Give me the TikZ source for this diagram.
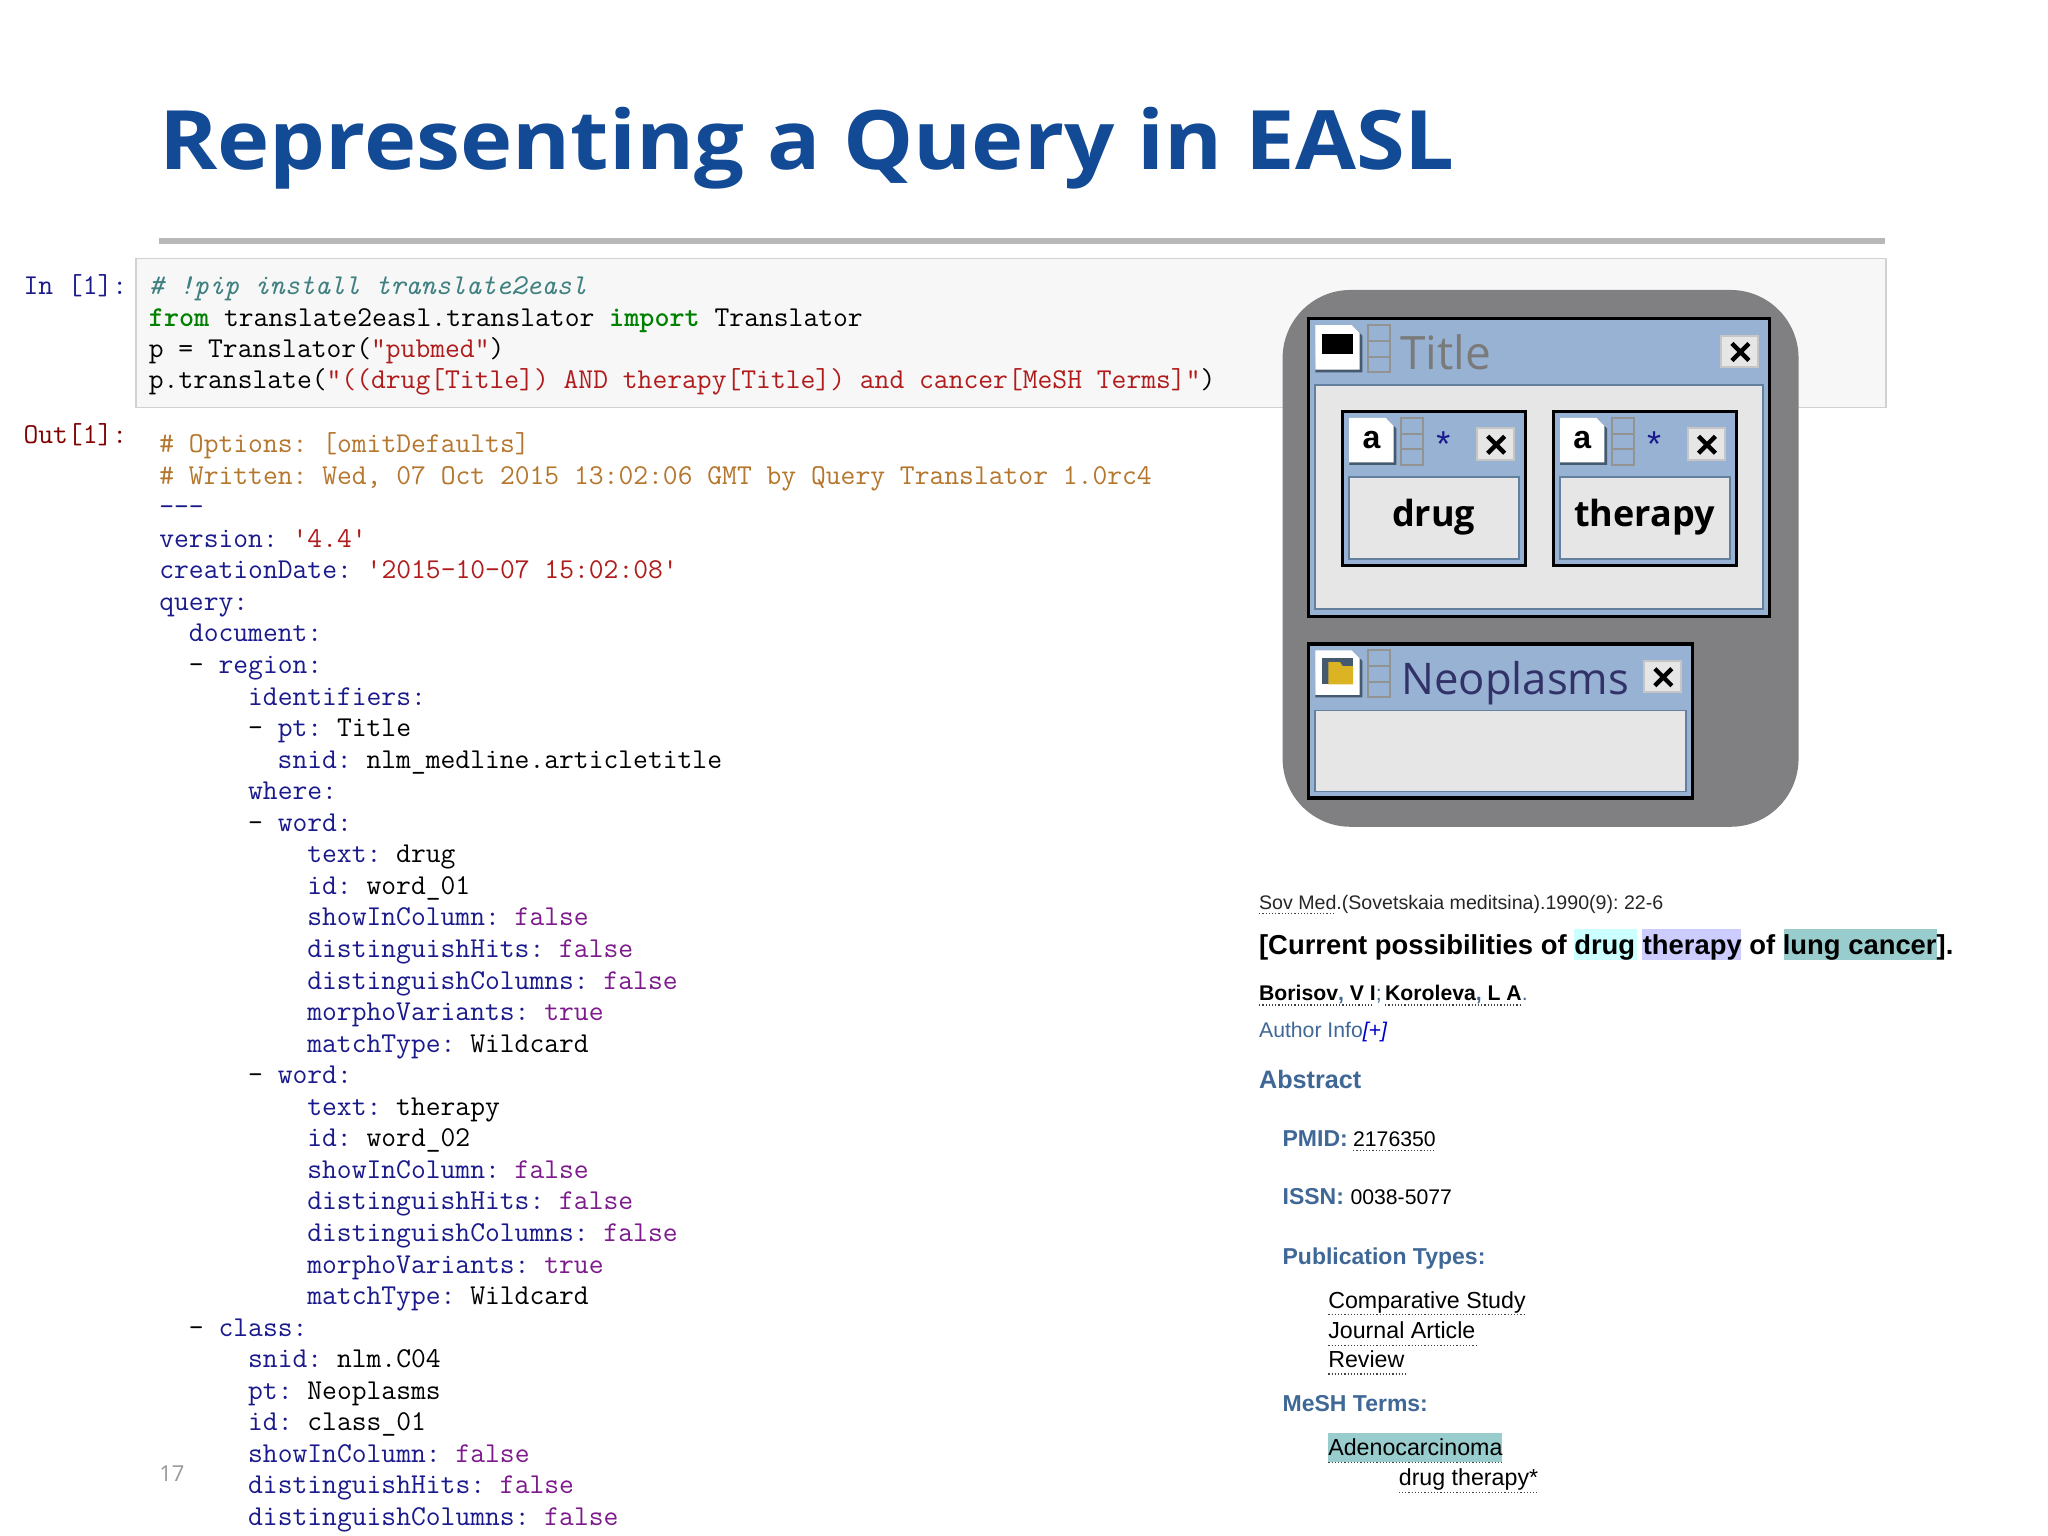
\documentclass[tikz,border=0pt]{standalone}
\usepackage{fontspec}
\setmainfont{Liberation Sans}
\newfontfamily\headfont{Open Sans}
\usetikzlibrary{positioning}
\AtBeginDocument{\frenchspacing}

\definecolor{titleblue}{HTML}{134A95}
\definecolor{keynavy}{HTML}{1A1A8C}
\definecolor{strred}{HTML}{B01C1C}
\definecolor{boolpurple}{HTML}{7D1A8C}
\definecolor{cmorange}{HTML}{B5762E}
\definecolor{cmteal}{HTML}{408080}
\definecolor{kwgreen}{HTML}{008000}
\definecolor{labelred}{HTML}{800000}
\definecolor{winblue}{HTML}{98B2D3}
\definecolor{winedge}{HTML}{64809F}
\definecolor{winbody}{HTML}{E6E6E6}
\definecolor{panelgrey}{HTML}{808082}
\definecolor{headblue}{HTML}{3F6897}
\definecolor{hlcyan}{HTML}{CCFFFF}
\definecolor{hlviolet}{HTML}{CCCCFF}
\definecolor{hlteal}{HTML}{99CCCC}

\newcommand{\ky}[1]{\textcolor{keynavy}{#1}}
\newcommand{\st}[1]{\textcolor{strred}{#1}}
\newcommand{\bl}[1]{\textcolor{boolpurple}{#1}}
\newcommand{\cm}[1]{\textcolor{cmorange}{#1}}
\newcommand{\kw}[1]{\textcolor{kwgreen}{\bfseries #1}}
\newcommand{\codesize}{\fontsize{14.38}{16}\selectfont\ttfamily}

% grey three part grip, white page and close button of a query window
\newcommand{\wingrip}[2]{
    \draw[draw=gray!85,line width=1pt,fill=winblue](#1,#2)rectangle++(17,36);
    \draw[draw=gray!85,line width=1pt](#1,#2+12)--++(17,0) (#1,#2+24)--++(17,0);
}
\newcommand{\winpage}[2]{
    \fill[winedge!70!black](#1+1,#2+1)--++(28,0)--++(7,7)--++(0,28)--++(-36,0)--cycle;
    \fill[white](#1,#2)--++(28,0)--++(6,6)--++(0,28)--++(-34,0)--cycle;
}
\newcommand{\winclose}[2]{
    \draw[draw=gray!45,line width=1pt,fill=winbody](#1,#2)rectangle++(28,24);
    \draw[line width=2.2pt](#1+8,#2+6)--++(13,13) (#1+21,#2+6)--++(-13,13);
}

\tikzset{
    txt/.style={anchor=base west,inner sep=0pt,outer sep=0pt},
    code/.style={txt,font=\codesize},
    plain/.style={txt,font=\fontsize{10.6}{12}\selectfont},
    term/.style={txt,font=\fontsize{11.6}{13}\selectfont},
    strong/.style={txt,font=\fontsize{11.5}{13}\selectfont\bfseries,text=headblue},
    under/.style={black!75,line width=0.6pt,densely dotted},
    winframe/.style={draw=black,line width=1.6pt,fill=winblue},
    winpane/.style={draw=winedge,line width=0.9pt,fill=winbody}
}

\begin{document}
\begin{tikzpicture}[x=0.653pt,y=-0.653pt]
    \useasboundingbox(0,0)rectangle(1568,1176);
    \fill[white](0,0)rectangle(1568,1176);

    \node[txt,font=\headfont\fontsize{41}{46}\selectfont\bfseries,text=titleblue](heading)at(122,130){\scalebox{1.078}[1]{Representing a Query in EASL}};
    \fill[black!28](122,182)rectangle(1443,187);
    \node[txt,font=\headfont\fontsize{11}{13}\selectfont,text=black!40](pageno)at(122,1134){17};

    % input cell
    \draw[draw=black!18,line width=0.7pt,fill=black!3](104,198)rectangle(1444,312);
    \node[code,text=keynavy](inlabel)at(18,225.7){In [1]:};
    \node[code,text=labelred](outlabel)at(18,339.5){Out[1]:};
    \node[code,text=cmteal,font=\codesize\itshape](inone)at(114,225.7){\# !pip install translate2easl};
    \node[code](intwo)at(114,249.7){\kw{from} translate2easl.translator \kw{import} Translator};
    \node[code](inthree)at(114,273.7){p = Translator(\st{"pubmed"})};
    \node[code](infour)at(114,297.7){p.translate(\st{"((drug[Title]) AND therapy[Title]) and cancer[MeSH Terms]"})};

    % output cell
    \foreach \row/\ind/\txt in {
        0/0/{\cm{\# Options: [omitDefaults]}},
        1/0/{\cm{\# Written: Wed, 07 Oct 2015 13:02:06 GMT by Query Translator 1.0rc4}},
        2/0/{\ky{---}},
        3/0/{\ky{version:} \st{'4.4'}},
        4/0/{\ky{creationDate:} \st{'2015-10-07 15:02:08'}},
        5/0/{\ky{query:}},
        6/2/{\ky{document:}},
        7/2/{- \ky{region:}},
        8/6/{\ky{identifiers:}},
        9/6/{- \ky{pt:} Title},
        10/8/{\ky{snid:} nlm\_medline.articletitle},
        11/6/{\ky{where:}},
        12/6/{- \ky{word:}},
        13/10/{\ky{text:} drug},
        14/10/{\ky{id:} word\_01},
        15/10/{\ky{showInColumn:} \bl{false}},
        16/10/{\ky{distinguishHits:} \bl{false}},
        17/10/{\ky{distinguishColumns:} \bl{false}},
        18/10/{\ky{morphoVariants:} \bl{true}},
        19/10/{\ky{matchType:} Wildcard},
        20/6/{- \ky{word:}},
        21/10/{\ky{text:} therapy},
        22/10/{\ky{id:} word\_02},
        23/10/{\ky{showInColumn:} \bl{false}},
        24/10/{\ky{distinguishHits:} \bl{false}},
        25/10/{\ky{distinguishColumns:} \bl{false}},
        26/10/{\ky{morphoVariants:} \bl{true}},
        27/10/{\ky{matchType:} Wildcard},
        28/2/{- \ky{class:}},
        29/6/{\ky{snid:} nlm.C04},
        30/6/{\ky{pt:} Neoplasms},
        31/6/{\ky{id:} class\_01},
        32/6/{\ky{showInColumn:} \bl{false}},
        33/6/{\ky{distinguishHits:} \bl{false}},
        34/6/{\ky{distinguishColumns:} \bl{false}}}
        \node[code](out\row)at(122+\ind*11.33,346.5+\row*24.16){\txt};

    % query panel
    \fill[panelgrey,rounded corners=34](982,222)rectangle(1377,633);

    \draw[winframe](1002,244)rectangle(1355,472);
    \draw[winpane](1007,295)rectangle(1350,466);
    \winpage{1007}{249}
    \fill[black](1012,256)rectangle(1036,271);
    \wingrip{1047}{249}
    \node[txt,font=\headfont\fontsize{23}{26}\selectfont,text=black!52](titlename)at(1072,283){Title};
    \winclose{1318}{257}

    \foreach \dx/\name/\word in {0/drug/drug,161.4/therapy/therapy}{
        \draw[winframe,fill=winblue](1028+\dx,315)rectangle(1168+\dx,433);
        \draw[winpane](1033+\dx,365)rectangle(1163+\dx,428);
        \winpage{1033+\dx}{320}
        \node[font=\fontsize{16}{18}\selectfont\bfseries,inner sep=0pt](\name icon)at(1050+\dx,337){a};
        \wingrip{1072.5+\dx}{320}
        \node[font=\fontsize{18}{20}\selectfont,text=keynavy,inner sep=0pt](\name star)at(1105+\dx,340){*};
        \winclose{1131+\dx}{328}
        \node[anchor=base,font=\headfont\fontsize{18}{20}\selectfont\bfseries,inner sep=0pt](\name)at(1097.6+\dx,403){\word};
    }

    \draw[winframe](1002,493)rectangle(1295.5,611);
    \draw[winpane](1007,544)rectangle(1291,606);
    \winpage{1007}{498}
    \fill[winedge!70!black](1012,504)rectangle(1036,524);
    \fill[yellow!60!orange!85!black](1017,507)--(1026,507)--(1028,510)--(1036,510)--(1036,524)--(1017,524)--cycle;
    \wingrip{1047}{498}
    \node[txt,font=\headfont\fontsize{21.8}{26}\selectfont,text=keynavy!55!black!85](neoname)at(1073,532){Neoplasms};
    \winclose{1259}{506}

    % article record
    \fill[hlcyan](1205,711)rectangle(1253,735);
    \fill[hlviolet](1257.5,711)rectangle(1333,735);
    \fill[hlteal](1365.5,711)rectangle(1483,735);
    \fill[hlteal](1016.6,1097.5)rectangle(1150,1119.5);

    \node[plain,font=\fontsize{9.8}{12}\selectfont,text=black!85](journal)at(964,696){Sov Med.(Sovetskaia meditsina).1990(9): 22-6};
    \draw[under](964,699.5)--(1022,699.5);
    \node[txt,font=\fontsize{13.7}{16}\selectfont\bfseries](record)at(964,731){[Current possibilities of drug therapy of lung cancer].};
    \node[plain,font=\fontsize{10.6}{13}\selectfont\bfseries](authora)at(964,766){Borisov\textcolor{headblue}{,} V I\textcolor{headblue}{\mdseries;}};
    \node[plain,font=\fontsize{10.6}{13}\selectfont\bfseries](authorb)at(1060.5,766){Koroleva\textcolor{headblue}{,} L A\textcolor{headblue}{\mdseries.}};
    \draw[under](964,769.5)--(1052,769.5) (1060.5,769.5)--(1165,769.5);
    \node[plain,text=headblue](authorinfo)at(964,794.5){Author Info\textcolor{blue!80!black}{\itshape[+]}};
    \node[strong,font=\fontsize{12.6}{16}\selectfont\bfseries](abstract)at(964,833){Abstract};
    \node[strong](pmid)at(982,877.5){PMID:};
    \node[plain](pmidval)at(1036,877.5){2176350};
    \draw[under](1036,881)--(1099.5,881);
    \node[strong](issn)at(982,922.5){ISSN:};
    \node[plain](issnval)at(1034,922.5){0038-5077};
    \node[strong](pubtypes)at(982,968){Publication Types:};
    \node[term](typeone)at(1017,1001.5){Comparative Study};
    \draw[under](1017,1006.5)--(1168,1006.5);
    \node[term](typetwo)at(1017,1024.5){Journal Article};
    \draw[under](1017,1030)--(1130,1030);
    \node[term](typethree)at(1017,1047){Review};
    \draw[under](1017,1052)--(1076,1052);
    \node[strong](meshterms)at(982,1081){MeSH Terms:};
    \node[term](meshone)at(1017,1114){Adenocarcinoma};
    \draw[under](1017,1119.5)--(1150,1119.5);
    \node[term](meshtwo)at(1071,1137.5){drug therapy*};
    \draw[under](1071,1142.5)--(1177,1142.5);
\end{tikzpicture}
\end{document}
